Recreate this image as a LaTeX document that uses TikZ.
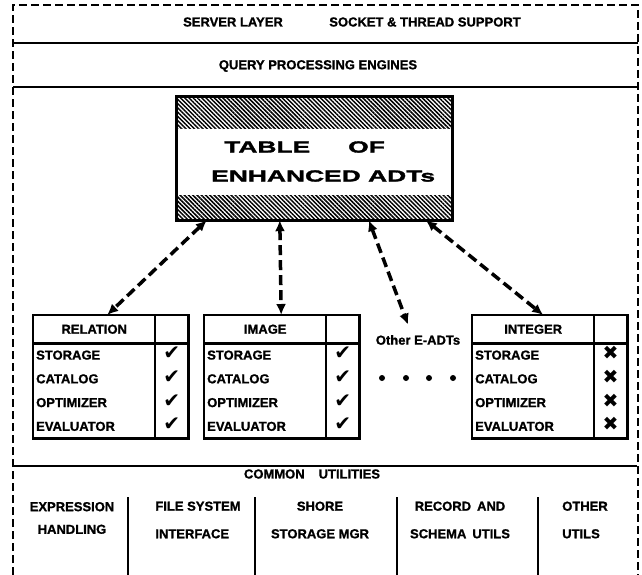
\documentclass[tikz,border=0pt]{standalone}
\usepackage{fontspec}
\setmainfont{Liberation Sans Bold}[FakeBold=1.2]
\newfontfamily\widefont{Liberation Sans Bold}[FakeStretch=1.65,FakeBold=2]
\newfontfamily\symfont{DejaVu Sans}
\usetikzlibrary{arrows.meta,patterns.meta,matrix}

\newcommand{\okmark}{{\symfont\fontsize{20}{20}\selectfont ✔}}
\newcommand{\nomark}{{\symfont\fontsize{19}{19}\selectfont ✖}}

\begin{document}
\begin{tikzpicture}[x=1pt, y=-1pt,
  font=\fontsize{13}{15.6}\selectfont,
  border/.style={line width=1.7pt, dash pattern=on 8pt off 4pt},
  layer/.style={line width=1.8pt},
  cell/.style={line width=2.4pt},
  hatch/.style={pattern={Lines[angle=-45,distance=3pt,line width=1.5pt]}},
  link/.style={line width=3.5pt, dash pattern=on 10pt off 5pt,
    {Latex[length=11pt,width=10pt]}-{Latex[length=11pt,width=10pt]}},
  dot/.style={circle, fill, inner sep=0pt, minimum size=6pt},
  adt/.style={matrix of nodes, nodes in empty cells, inner sep=0pt,
    column sep=0pt, row sep=0pt, anchor=north west,
    nodes={inner sep=0pt, minimum height=23.75pt, text height=9pt, text depth=0pt},
    column 1/.style={nodes={text width=116pt, inner xsep=3pt, align=left}},
    column 2/.style={nodes={minimum width=33pt}},
    row 1/.style={nodes={minimum height=28pt, align=center}}}
]
\useasboundingbox (0,0) rectangle (642,575);

% outer frame and layers
\draw[border] (13,575) -- (13,5) -- (638,5) -- (638,575);
\draw[layer] (13,43) -- (638,43);
\draw[layer] (13,87) -- (638,87);
\draw[layer] (13,466) -- (637,466);

\node (server) at (233,22) {SERVER LAYER};
\node (socket) at (425,22) {SOCKET \& THREAD SUPPORT};
\node (query) at (318,66) {QUERY PROCESSING ENGINES};

% table of enhanced ADTs
\node[minimum width=275pt, minimum height=123pt, inner sep=0pt] (tbl) at (314.5,158.5) {};
\fill[hatch] (tbl.north west) rectangle ([yshift=-32pt]tbl.north east);
\fill[hatch] ([yshift=25pt]tbl.south west) rectangle (tbl.south east);
\draw[line width=3.2pt] (tbl.north west) rectangle (tbl.south east);
\begin{scope}[every node/.style={inner sep=0pt, anchor=west,
    font=\fontsize{16}{19}\widefont}]
  \node (ttl1) at (224,147) {TABLE};
  \node (ttl2) at (348,147) {OF};
  \node (ttl3) at (211,176) {ENHANCED ADTs};
\end{scope}

% E-ADTs
\matrix (rel) [adt] at (33,315) {
  RELATION  & \\
  STORAGE   & \okmark \\
  CATALOG   & \okmark \\
  OPTIMIZER & \okmark \\
  EVALUATOR & \okmark \\
};
\matrix (img) [adt] at (204,315) {
  IMAGE     & \\
  STORAGE   & \okmark \\
  CATALOG   & \okmark \\
  OPTIMIZER & \okmark \\
  EVALUATOR & \okmark \\
};
\matrix (int) [adt] at (472,315) {
  INTEGER   & \\
  STORAGE   & \nomark \\
  CATALOG   & \nomark \\
  OPTIMIZER & \nomark \\
  EVALUATOR & \nomark \\
};
\foreach \t in {rel,img,int} {
  \draw[cell] (\t.north west) rectangle (\t.south east);
  \draw[cell] (\t-1-1.south west) -- (\t-1-2.south east);
  \draw[cell] (\t-1-2.north west) -- (\t-5-2.south west);
}

\node (other) at (418,340) {Other E-ADTs};
\foreach \x [count=\i] in {382,406,429,453}
  \node[dot] (dot\i) at (\x,378) {};

\path[link]
  ([xshift=30pt]tbl.south west) edge ([xshift=13pt]rel-1-1.north)
  ([xshift=103pt]tbl.south west) edge ([xshift=16pt]img-1-1.north)
  ([xshift=192pt]tbl.south west) edge ([xshift=-10pt,yshift=7pt]other.north)
  ([xshift=249pt]tbl.south west) edge ([xshift=10pt]int-1-1.north)
  ;

% common utilities
\node (common) at (312,474) {COMMON\hspace{14pt}UTILITIES};
\foreach \x in {128,255,397,538}
  \draw[line width=1.5pt] (\x,497) -- (\x,575);
\node[align=center] (expr) at (72,518) {EXPRESSION\\[7pt]HANDLING};
\node[align=left] (fsys) at (198,520) {FILE SYSTEM\\[12pt]INTERFACE};
\node[align=center] (shore) at (320,520) {SHORE\\[12pt]STORAGE MGR};
\node[align=center] (rec) at (460,520) {RECORD\hspace{6pt}AND\\[12pt]SCHEMA\hspace{6pt}UTILS};
\node[align=left] (otherutl) at (585,520) {OTHER\\[12pt]UTILS};
\end{tikzpicture}
\end{document}
